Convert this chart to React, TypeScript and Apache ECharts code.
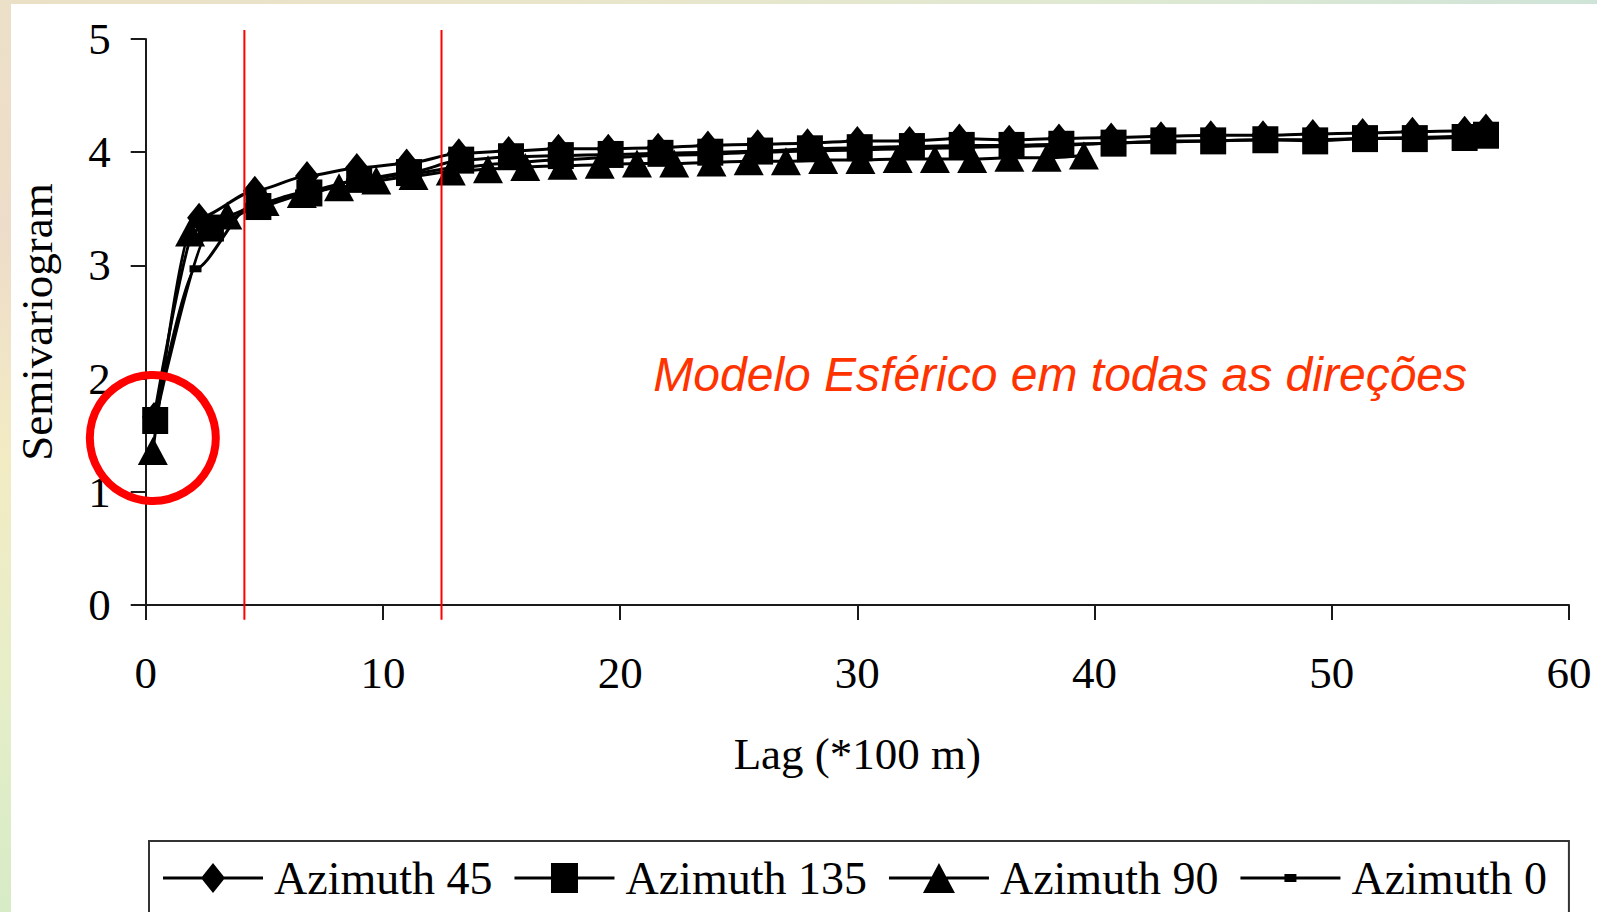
import React, { useEffect, useRef } from "react";
import * as echarts from "echarts";

// ---- data -------------------------------------------------------------
const seriesNames = ["Azimuth 45", "Azimuth 135", "Azimuth 90", "Azimuth 0"];

const lag45 = [0.35, 2.25, 4.6, 6.8, 8.9, 11.0, 13.2, 15.3, 17.4, 19.5, 21.6, 23.7, 25.8, 27.9, 30.0, 32.2, 34.3, 36.4, 38.5, 40.7, 42.8, 44.9, 47.1, 49.2, 51.3, 53.4, 55.6, 56.5];
const az45 = [1.66, 3.42, 3.66, 3.79, 3.86, 3.9, 3.99, 4.01, 4.03, 4.03, 4.04, 4.06, 4.07, 4.08, 4.1, 4.1, 4.12, 4.11, 4.12, 4.13, 4.14, 4.15, 4.15, 4.16, 4.17, 4.18, 4.19, 4.21];

const lag135 = [0.4, 2.75, 4.75, 6.9, 9.0, 11.1, 13.3, 15.4, 17.5, 19.6, 21.7, 23.8, 25.9, 28.0, 30.1, 32.3, 34.4, 36.5, 38.6, 40.8, 42.9, 45.0, 47.2, 49.3, 51.4, 53.5, 55.6, 56.5];
const az135 = [1.63, 3.33, 3.52, 3.64, 3.76, 3.82, 3.93, 3.96, 3.97, 3.98, 3.99, 4.0, 4.01, 4.03, 4.04, 4.05, 4.06, 4.06, 4.07, 4.08, 4.1, 4.1, 4.11, 4.1, 4.12, 4.12, 4.13, 4.15];

const lag90 = [0.3, 1.87, 3.44, 5.01, 6.58, 8.15, 9.72, 11.29, 12.86, 14.43, 16.0, 17.57, 19.14, 20.71, 22.28, 23.85, 25.42, 26.99, 28.56, 30.13, 31.7, 33.27, 34.84, 36.41, 37.98, 39.55];
const az90 = [1.36, 3.29, 3.44, 3.56, 3.63, 3.69, 3.75, 3.79, 3.83, 3.85, 3.87, 3.88, 3.89, 3.9, 3.9, 3.91, 3.92, 3.92, 3.93, 3.93, 3.94, 3.94, 3.94, 3.95, 3.95, 3.97];

const lag0 = [0.35, 2.1, 4.4, 6.55, 8.7, 10.85, 13.0, 15.1, 17.2, 19.35, 21.5, 23.6, 25.7, 27.85, 30.0, 32.1, 34.2, 36.35, 38.5, 40.6, 42.75, 44.9, 47.0, 49.15, 51.3, 53.4, 55.5];
const az0 = [1.6, 2.97, 3.52, 3.64, 3.74, 3.8, 3.86, 3.9, 3.93, 3.95, 3.97, 3.98, 4.0, 4.01, 4.02, 4.03, 4.04, 4.05, 4.06, 4.08, 4.09, 4.1, 4.11, 4.11, 4.12, 4.13, 4.14];

const xAxisRange = [0, 60, 10];
const yAxisRange = [0, 5, 1];

// annotations (data coordinates)
const rangeLines = [4.16, 12.47];
const rangeLineSpan = [-0.13, 5.08];
const nuggetCircle = [0.3, 1.475];
const annotationText = "Modelo Esférico em todas as direções";
const annotationAnchor = [38.55, 2.04];

// legend icons: line + marker in a 100x30 box
const legendIcons = [
  "path://M0,13.5H100V16.5H0Z M50,0L62,15L50,30L38,15Z",
  "path://M0,13.5H100V16.5H0Z M36.5,0H63.5V30H36.5Z",
  "path://M0,13.5H100V16.5H0Z M50,0L66,30H34Z",
  "path://M0,0L0.01,0L0,0.01Z M0,13.5H100V16.5H0Z M44,11H56V19H44Z M100,30L99.99,30L100,29.99Z",
];

const serif = "'Liberation Serif', 'Times New Roman', serif";

export default function App() {
  const ref = useRef<HTMLDivElement>(null);

  useEffect(() => {
    const el = ref.current;
    if (!el) return;
    const chart = echarts.init(el, null, { renderer: "svg" });

    const mk = (name: string, xs: number[], ys: number[], symbol: string, size: any, z: number) => ({
      name,
      type: "line",
      data: xs.map((x, i) => [x, ys[i]]),
      symbol,
      symbolSize: size,
      showAllSymbol: true,
      smooth: 0.25,
      smoothMonotone: "x",
      lineStyle: { color: "#000", width: 3 },
      itemStyle: { color: "#000", borderWidth: 0 },
      emphasis: { disabled: true },
      z,
    });

    chart.setOption({
      animation: false,
      backgroundColor: "transparent",
      grid: { left: 134.7, right: 28, top: 35, bottom: 307, containLabel: false, outerBoundsMode: "none" },
      xAxis: {
        type: "value",
        min: xAxisRange[0],
        max: xAxisRange[1],
        interval: xAxisRange[2],
        axisLine: { lineStyle: { color: "#1a1a1a", width: 2 } },
        axisTick: { length: 15, lineStyle: { color: "#1a1a1a", width: 2 } },
        splitLine: { show: false },
        axisLabel: { fontFamily: serif, fontSize: 45, color: "#000", margin: 45 },
        name: "Lag (*100 m)",
        nameLocation: "middle",
        nameGap: 126,
        nameTextStyle: { fontFamily: serif, fontSize: 45, color: "#000" },
      },
      yAxis: {
        type: "value",
        min: yAxisRange[0],
        max: yAxisRange[1],
        interval: yAxisRange[2],
        axisLine: { show: true, lineStyle: { color: "#1a1a1a", width: 2 } },
        axisTick: { show: true, length: 15, lineStyle: { color: "#1a1a1a", width: 2 } },
        splitLine: { show: false },
        axisLabel: { fontFamily: serif, fontSize: 45, color: "#000", margin: 35 },
        name: "Semivariogram",
        nameLocation: "middle",
        nameGap: 86,
        nameTextStyle: { fontFamily: serif, fontSize: 45, color: "#000" },
      },
      legend: {
        data: seriesNames.map((n, i) => ({ name: n, icon: legendIcons[i] })),
        left: 138,
        top: 837,
        orient: "horizontal",
        itemWidth: 100,
        itemHeight: 30,
        itemGap: 22,
        padding: [14, 22, 14, 14],
        borderColor: "#333",
        borderWidth: 2,
        selectedMode: false,
        textStyle: { fontFamily: serif, fontSize: 46, color: "#000", padding: [0, 0, 0, 6] },
      },
      series: [
        mk(seriesNames[0], lag45, az45, "diamond", [24, 30], 2),
        mk(seriesNames[1], lag135, az135, "rect", [26, 27], 3),
        mk(seriesNames[2], lag90, az90, "triangle", [30, 28], 4),
        mk(seriesNames[3], lag0, az0, "rect", [12, 7], 5),
      ],
    });

    const px = (x: number, y: number) => chart.convertToPixel({ gridIndex: 0 }, [x, y]) as number[];
    const lines = rangeLines.map((lx) => {
      const a = px(lx, rangeLineSpan[1]);
      const b = px(lx, rangeLineSpan[0]);
      return {
        type: "line",
        z: 50,
        shape: { x1: a[0], y1: a[1], x2: b[0], y2: b[1] },
        style: { stroke: "#ff0000", lineWidth: 2 },
      };
    });
    const c = px(nuggetCircle[0], nuggetCircle[1]);
    const t = px(annotationAnchor[0], annotationAnchor[1]);
    chart.setOption({
      graphic: [
        ...lines,
        {
          type: "circle",
          z: 60,
          shape: { cx: c[0], cy: c[1], r: 63 },
          style: { fill: "none", stroke: "#ff0000", lineWidth: 8 },
        },
        {
          type: "text",
          z: 60,
          x: t[0],
          y: t[1],
          style: {
            text: annotationText,
            font: "italic 48px 'Liberation Sans', Arial, sans-serif",
            fill: "#ff3300",
            textAlign: "center",
            textVerticalAlign: "middle",
            align: "center",
            verticalAlign: "middle",
          },
        },
      ],
    });

    return () => chart.dispose();
  }, []);

  return (
    <div
      style={{
        position: "fixed",
        left: 0,
        top: 0,
        width: 1597,
        height: 912,
        overflow: "hidden",
        background: "linear-gradient(90deg, #ebe0c6 0%, #e8e6cb 40%, #dfe9d2 70%, #cfe4d8 100%)",
      }}
    >
      <div
        style={{
          position: "absolute",
          left: 0,
          top: 0,
          width: 11,
          height: 912,
          background: "linear-gradient(180deg, #ece0c8 0%, #eddcc9 25%, #f2ebc4 50%, #e6eec8 75%, #d6ebc6 100%)",
        }}
      />
      <div
        ref={ref}
        style={{ position: "absolute", left: 11, top: 4, width: 1586, height: 908, background: "#ffffff" }}
      />
    </div>
  );
}
